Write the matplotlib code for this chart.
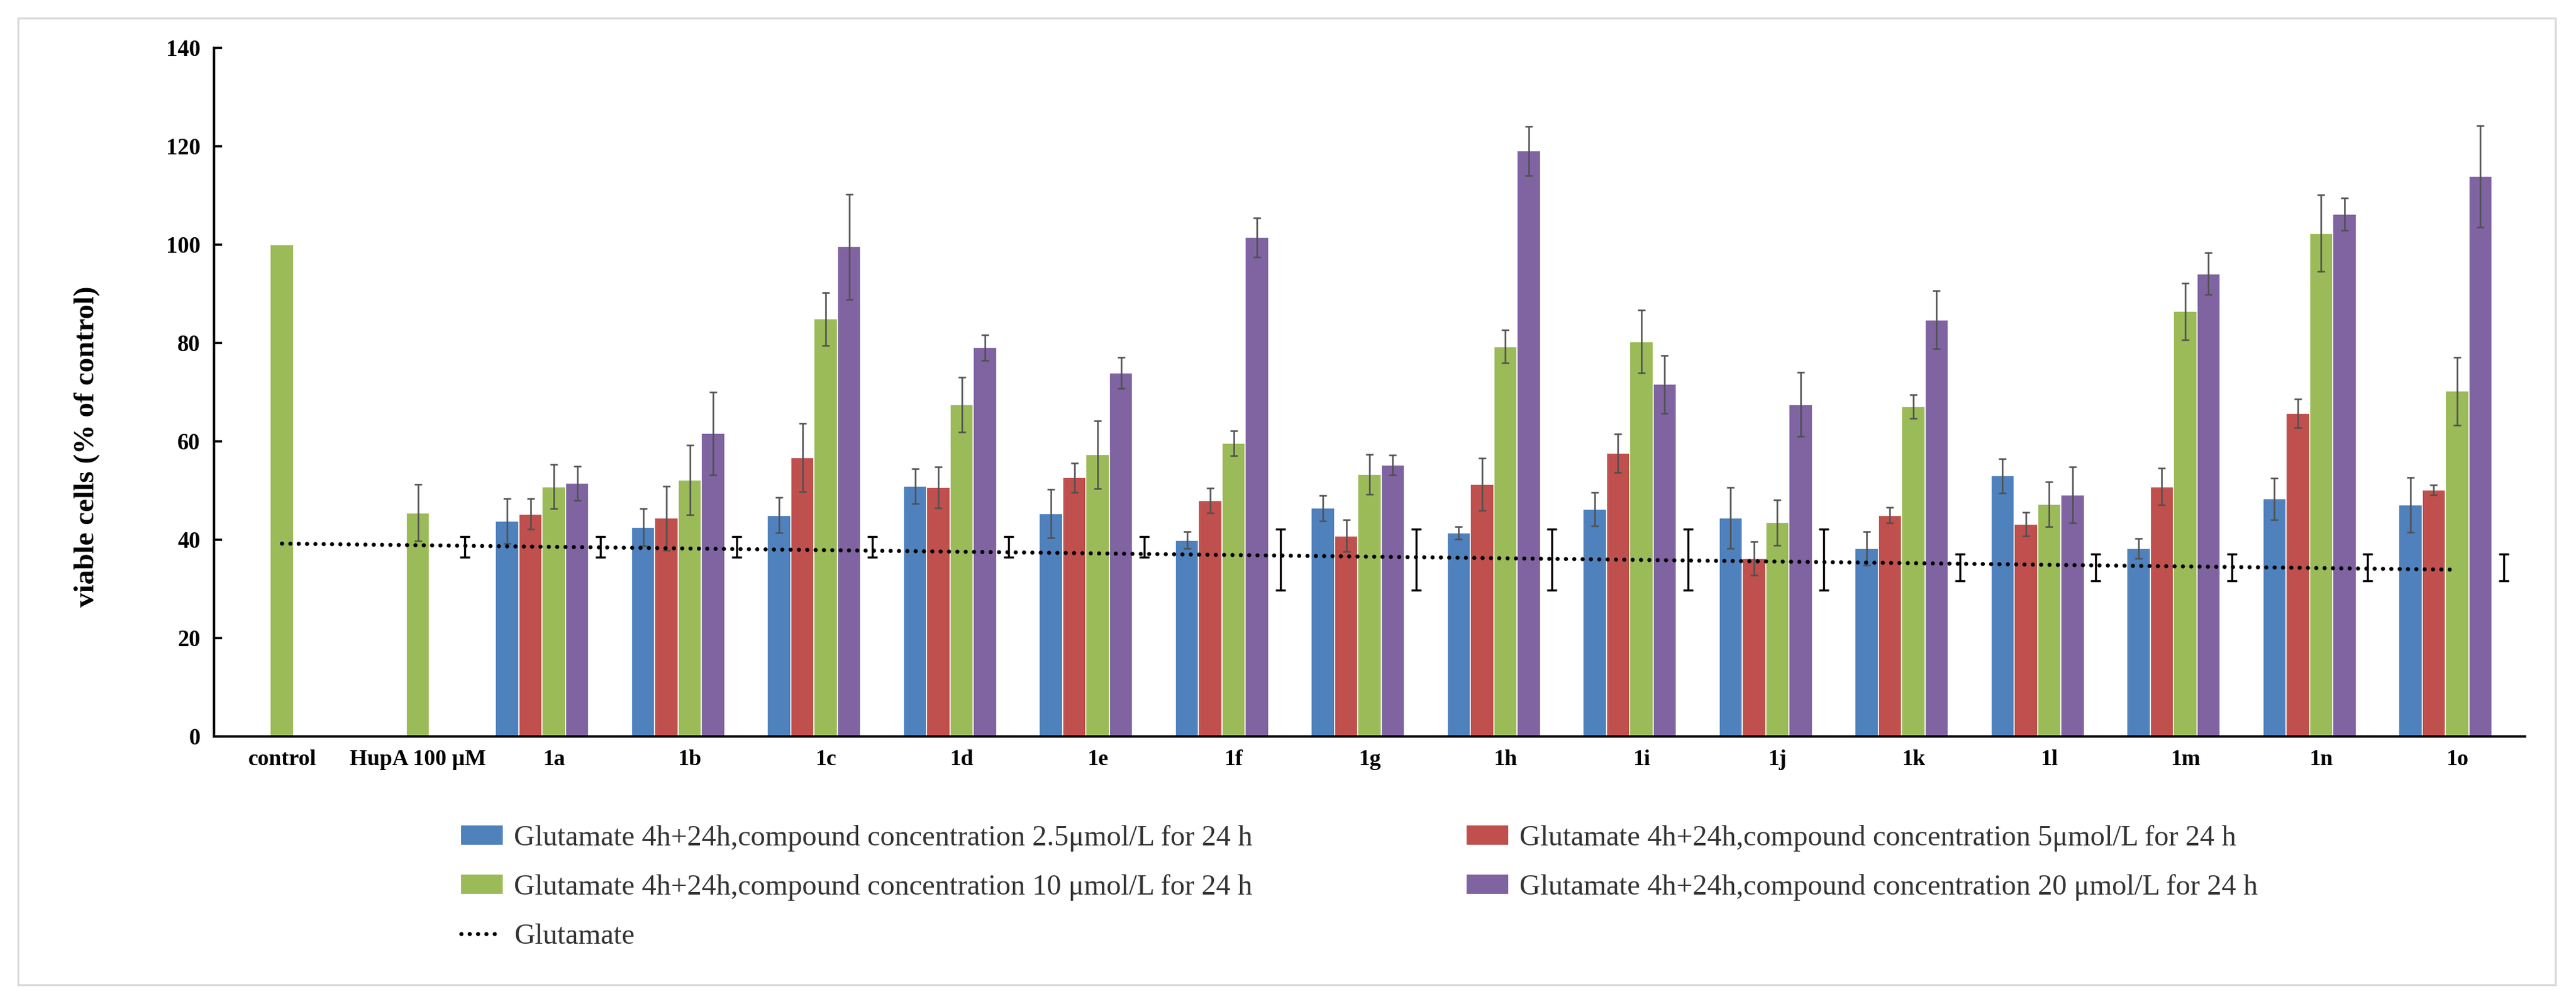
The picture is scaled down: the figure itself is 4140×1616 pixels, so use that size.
import numpy as np
import matplotlib
matplotlib.use("Agg")
import matplotlib.pyplot as plt
from matplotlib.patches import Rectangle, Patch
from matplotlib.lines import Line2D

plt.rcParams['font.family'] = ['Liberation Serif', 'DejaVu Serif']

nan = np.nan
categories = ["control", "HupA 100 μM", "1a", "1b", "1c", "1d", "1e", "1f", "1g",
              "1h", "1i", "1j", "1k", "1l", "1m", "1n", "1o"]

conc_2_5 = [nan, nan, 43.8, 42.5, 45.0, 50.9, 45.3, 39.9, 46.4, 41.4, 46.2, 44.4, 38.2, 53.0, 38.2, 48.3, 47.1]
err_2_5 = [nan, nan, 4.5, 3.8, 3.6, 3.5, 4.9, 1.7, 2.6, 1.3, 3.4, 6.2, 3.4, 3.5, 2.0, 4.2, 5.6]
conc_5 = [nan, nan, 45.2, 44.4, 56.7, 50.6, 52.6, 48.0, 40.8, 51.3, 57.6, 36.2, 45.0, 43.2, 50.8, 65.7, 50.1]
err_5 = [nan, nan, 3.1, 6.5, 7.0, 4.2, 3.0, 2.5, 3.2, 5.3, 3.9, 3.4, 1.6, 2.4, 3.7, 2.9, 1.0]
conc_10 = [100.0, 45.5, 50.8, 52.2, 84.9, 67.5, 57.3, 59.6, 53.3, 79.3, 80.3, 43.5, 67.1, 47.2, 86.4, 102.3, 70.2]
err_10 = [nan, 5.8, 4.5, 7.1, 5.4, 5.6, 6.9, 2.5, 4.1, 3.3, 6.4, 4.6, 2.4, 4.6, 5.8, 7.8, 6.9]
conc_20 = [nan, nan, 51.5, 61.6, 99.6, 79.1, 73.9, 101.5, 55.2, 119.1, 71.6, 67.5, 84.7, 49.1, 94.1, 106.2, 113.9]
err_20 = [nan, nan, 3.5, 8.4, 10.7, 2.6, 3.2, 4.0, 2.0, 5.0, 5.9, 6.5, 5.9, 5.7, 4.2, 3.3, 10.3]

glutamate = [38.5, 38.5, 38.5, 38.5, 38.5, 38.5, 38.5, 36.0, 36.0, 36.0, 36.0, 36.0, 34.4, 34.4, 34.4, 34.4, 34.4]
glutamate_err = [0.0, 2.1, 2.1, 2.1, 2.1, 2.1, 2.1, 6.2, 6.2, 6.2, 6.2, 6.2, 2.7, 2.7, 2.7, 2.7, 2.7]

series_labels = [
    "Glutamate 4h+24h,compound concentration 2.5μmol/L for 24 h",
    "Glutamate 4h+24h,compound concentration 5μmol/L for 24 h",
    "Glutamate 4h+24h,compound concentration 10 μmol/L for 24 h",
    "Glutamate 4h+24h,compound concentration 20 μmol/L for 24 h",
]
line_label = "Glutamate"
colors = ["#4F81BD", "#C0504D", "#9BBB59", "#8064A2"]

W, H = 4140, 1616
fig = plt.figure(figsize=(W / 100, H / 100), dpi=100)
ax = fig.add_axes([344 / W, (H - 1183) / H, (4058 - 344) / W, (1183 - 77) / H])

x = np.arange(len(categories))
pitch = 0.1716
values = [conc_2_5, conc_5, conc_10, conc_20]
errors = [err_2_5, err_5, err_10, err_20]
for k, (vals, errs, col) in enumerate(zip(values, errors, colors)):
    v = np.array(vals, dtype=float)
    e = np.array(errs, dtype=float)
    xpos = x + (k - 2) * pitch
    m = ~np.isnan(v)
    ax.bar(xpos[m], v[m], width=pitch, color=col, edgecolor='white', linewidth=1.2, zorder=2)
    me = m & ~np.isnan(e)
    ax.errorbar(xpos[me], v[me], yerr=e[me], fmt='none', ecolor='#505050',
                elinewidth=1.8, capsize=4, capthick=1.8, zorder=3)

g = np.array(glutamate)
ge = np.array(glutamate_err)
mg = ge > 0
ax.errorbar(x[mg] + 2 * pitch, g[mg], yerr=ge[mg], fmt='none', ecolor='black',
            elinewidth=2.4, capsize=6, capthick=2.4, zorder=4)
coef = np.polyfit(x, g, 1)
xt = np.array([x[0], x[-1]])
dot_style = (0, (0.01, 2.0))
ax.plot(xt, np.polyval(coef, xt), color='black', linewidth=4.8,
        linestyle=dot_style, dash_capstyle='round', zorder=5)

ax.set_xlim(-0.5, 16.5)
ax.set_ylim(0, 140)
ax.set_yticks(np.arange(0, 141, 20))
ax.set_xticks(x)
ax.set_xticklabels(categories, fontsize=26, fontweight='bold')
for lab in ax.get_yticklabels():
    lab.set_fontweight('bold')
ax.tick_params(axis='y', direction='in', length=9, width=2.6, labelsize=26.5, pad=16)
ax.tick_params(axis='x', length=0, pad=15)
for s in ['top', 'right']:
    ax.spines[s].set_visible(False)
for s in ['left', 'bottom']:
    ax.spines[s].set_linewidth(2.8)
ax.set_ylabel("viable cells (% of control)", fontsize=34, fontweight='bold')
ax.yaxis.set_label_coords(-0.0493, 0.421)

# legend
h = [Patch(facecolor=c, edgecolor='none') for c in colors]
hl = Line2D([], [], color='black', linewidth=4.8, linestyle=dot_style, dash_capstyle='round')
leg_kw = dict(loc='upper left', frameon=False, fontsize=33.5, borderpad=0, borderaxespad=0,
              handlelength=1.43, handleheight=0.65, handletextpad=0.4, labelspacing=0.78,
              labelcolor='#333333')
ytop = (H - 1325) / H
leg1 = fig.legend([h[0], h[2], hl], [series_labels[0], series_labels[2], line_label],
                  bbox_to_anchor=(741 / W, ytop), **leg_kw)
leg2 = fig.legend([h[1], h[3]], [series_labels[1], series_labels[3]],
                  bbox_to_anchor=(2357 / W, ytop), **leg_kw)

fig.patches.append(Rectangle((29 / W, (H - 1582) / H), (4107 - 29) / W, (1582 - 29) / H,
                             transform=fig.transFigure, fill=False, edgecolor='#d9d9d9', linewidth=2.2))

fig.savefig("out.png", dpi=100, facecolor='white')
